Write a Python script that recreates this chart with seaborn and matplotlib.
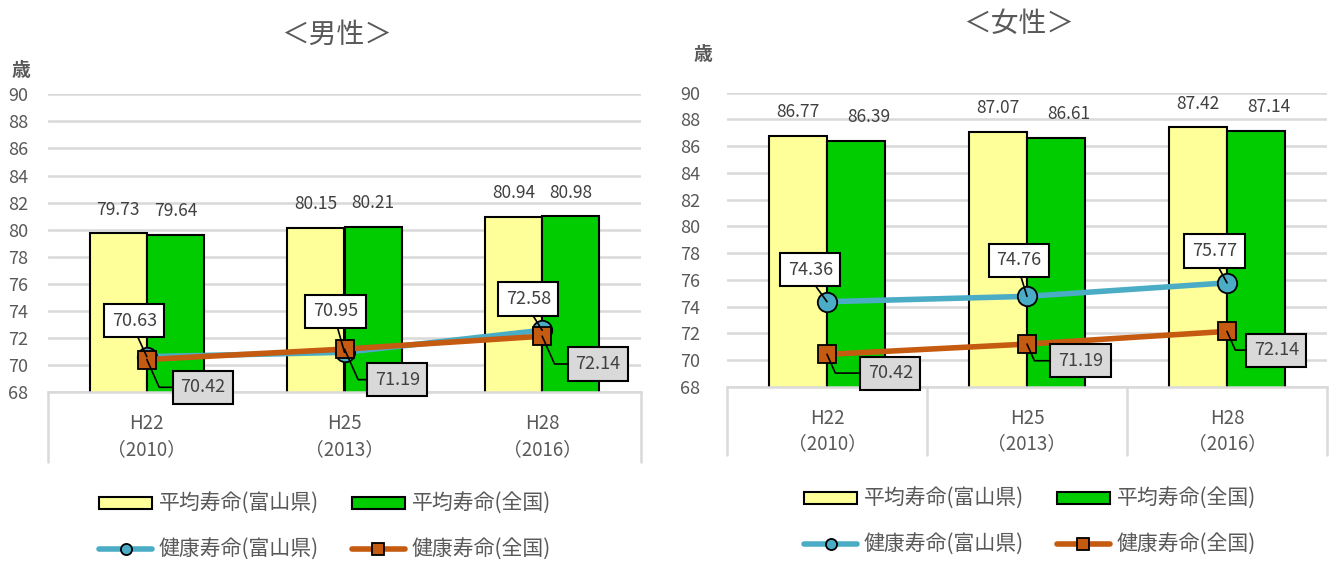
import numpy as np
import pandas as pd
import matplotlib
matplotlib.use('Agg')
import matplotlib.pyplot as plt
from matplotlib.patches import Patch
from matplotlib.lines import Line2D
import seaborn as sns

# data
periods = ['H22\n（2010）', 'H25\n（2013）', 'H28\n（2016）']
bar_series = ['平均寿命(富山県)', '平均寿命(全国)']
line_series = ['健康寿命(富山県)', '健康寿命(全国)']

male_avg_toyama = [79.73, 80.15, 80.94]
male_avg_japan = [79.64, 80.21, 80.98]
male_healthy_toyama = [70.63, 70.95, 72.58]
male_healthy_japan = [70.42, 71.19, 72.14]

female_avg_toyama = [86.77, 87.07, 87.42]
female_avg_japan = [86.39, 86.61, 87.14]
female_healthy_toyama = [74.36, 74.76, 75.77]
female_healthy_japan = [70.42, 71.19, 72.14]

YELLOW = '#FFFF99'
GREEN = '#00CC00'
BLUE = '#4BACC6'
BROWN = '#C55A11'
TXT = '#595959'
GRID = '#D9D9D9'

sns.set_style('white')
plt.rcParams['font.family'] = ['Noto Sans CJK JP', 'DejaVu Sans']

W, H = 1336, 563
fig = plt.figure(figsize=(W / 100, H / 100), dpi=100)


def px_axes(x0, x1, ytop, ybot):
    return fig.add_axes([x0 / W, 1 - ybot / H, (x1 - x0) / W, (ybot - ytop) / H])


def draw_panel(ax, avg_t, avg_j, hl_t, hl_j, ytick_pad, xtick_pad, box_depth,
               separators, green_dx, top_offsets, bottom_offsets):
    df = pd.DataFrame({
        'period': periods * 2,
        'series': [bar_series[0]] * 3 + [bar_series[1]] * 3,
        'value': avg_t + avg_j,
    })
    sns.barplot(data=df, x='period', y='value', hue='series', hue_order=bar_series,
                palette=[YELLOW, GREEN], saturation=1, width=0.58,
                edgecolor='black', linewidth=1.5, legend=False, ax=ax, zorder=2)

    xpos = np.arange(len(periods))
    sns.lineplot(x=xpos, y=hl_t, color=BLUE, linewidth=4, marker='o', markersize=14,
                 markerfacecolor=BLUE, markeredgecolor='black', markeredgewidth=1.3,
                 ax=ax, zorder=4)
    sns.lineplot(x=xpos, y=hl_j, color=BROWN, linewidth=4, marker='s', markersize=12.5,
                 markerfacecolor=BROWN, markeredgecolor='black', markeredgewidth=1.3,
                 ax=ax, zorder=4)

    ax.set_ylim(68, 90)
    ax.set_yticks(range(68, 91, 2))
    ax.set_xlim(-0.5, 2.5)
    ax.set_xlabel('')
    ax.set_ylabel('')
    ax.yaxis.grid(True, color=GRID, linewidth=1.8)
    ax.set_axisbelow(True)
    for s in ax.spines.values():
        s.set_visible(False)
    ax.spines['bottom'].set_visible(True)
    ax.spines['bottom'].set_color(GRID)
    ax.spines['bottom'].set_linewidth(1.8)
    ax.tick_params(axis='y', length=0, colors=TXT, labelsize=13, pad=ytick_pad)
    ax.tick_params(axis='x', length=0, colors=TXT, labelsize=13.5, pad=xtick_pad)
    for lab in ax.get_xticklabels():
        lab.set_linespacing(1.3)

    # category box below the plot
    for xa in (0, 1):
        ax.plot([xa, xa], [0, -box_depth], transform=ax.transAxes, color=GRID,
                lw=1.8, clip_on=False)
    for xs in separators:
        ax.plot([xs, xs], [0, -box_depth], transform=ax.get_xaxis_transform(),
                color=GRID, lw=1.8, clip_on=False)

    # bar value labels
    for k, (cont, vals) in enumerate(zip(ax.containers, [avg_t, avg_j])):
        for bar, v in zip(cont, vals):
            cx = bar.get_x() + bar.get_width() / 2
            ax.annotate(f'{v:.2f}', xy=(cx, v), xytext=(green_dx * k, 17),
                        textcoords='offset points', ha='center', va='center',
                        fontsize=12.5, color='#404040')

    # healthy-life labels
    for i, v in enumerate(hl_t):
        ax.annotate(f'{v:.2f}', xy=(i, v), xytext=top_offsets[i],
                    textcoords='offset points', ha='center', va='center',
                    fontsize=13, color='#404040', zorder=6,
                    bbox=dict(boxstyle='square,pad=0.42', fc='white', ec='black', lw=1.5),
                    arrowprops=dict(arrowstyle='-', color='black', lw=1.2,
                                    shrinkA=0, shrinkB=0, relpos=(0.5, 0)))
    for i, v in enumerate(hl_j):
        ax.annotate(f'{v:.2f}', xy=(i, v), xytext=bottom_offsets[i],
                    textcoords='offset points', ha='center', va='center',
                    fontsize=13, color='#404040', zorder=6,
                    bbox=dict(boxstyle='square,pad=0.42', fc=GRID, ec='black', lw=1.5),
                    arrowprops=dict(arrowstyle='-', color='black', lw=1.2,
                                    shrinkA=0, shrinkB=0, relpos=(0, 0.5),
                                    connectionstyle='angle,angleA=0,angleB=-66,rad=0'))


ax_m = px_axes(48, 641, 94.3, 392.3)
draw_panel(ax_m, male_avg_toyama, male_avg_japan, male_healthy_toyama, male_healthy_japan,
           ytick_pad=14, xtick_pad=15, box_depth=0.233, separators=[], green_dx=0,
           top_offsets=[(-9, 26), (-6.5, 29.5), (-10, 22.5)],
           bottom_offsets=[(40.5, -20), (38, -22), (40, -20)])

ax_f = px_axes(727, 1327, 92.7, 386.7)
draw_panel(ax_f, female_avg_toyama, female_avg_japan, female_healthy_toyama, female_healthy_japan,
           ytick_pad=19, xtick_pad=15, box_depth=0.232, separators=[0.5, 1.5], green_dx=9,
           top_offsets=[(-12, 23), (-6, 26), (-9, 23)],
           bottom_offsets=[(45.5, -13.5), (38.5, -12), (35.5, -13.5)])

# titles and unit labels
fig.text(337 / W, 1 - 35 / H, '＜男性＞', ha='center', va='center', fontsize=20, color=TXT)
fig.text(1019 / W, 1 - 24 / H, '＜女性＞', ha='center', va='center', fontsize=20, color=TXT)
fig.text(21 / W, 1 - 71 / H, '歳', ha='center', va='center', fontsize=13.5,
         fontweight='bold', color=TXT)
fig.text(703 / W, 1 - 55 / H, '歳', ha='center', va='center', fontsize=13.5,
         fontweight='bold', color=TXT)

# legends
handles = [
    Patch(facecolor=YELLOW, edgecolor='black', linewidth=1.5),
    Line2D([], [], color=BLUE, lw=4, marker='o', markersize=8, markerfacecolor=BLUE,
           markeredgecolor='black', markeredgewidth=1.3),
    Patch(facecolor=GREEN, edgecolor='black', linewidth=1.5),
    Line2D([], [], color=BROWN, lw=4, marker='s', markersize=8, markerfacecolor=BROWN,
           markeredgecolor='black', markeredgewidth=1.3),
]
labels = [bar_series[0], line_series[0], bar_series[1], line_series[1]]
for lx, ly in [(99, 527), (804, 522)]:
    fig.legend(handles, labels, ncol=2, loc='center left',
               bbox_to_anchor=(lx / W, 1 - ly / H), frameon=False, fontsize=15,
               handlelength=2.55, handleheight=0.55, handletextpad=0.32,
               columnspacing=1.58, labelspacing=1.13, borderpad=0, borderaxespad=0,
               labelcolor=TXT)

fig.savefig('out.png', dpi=100)
